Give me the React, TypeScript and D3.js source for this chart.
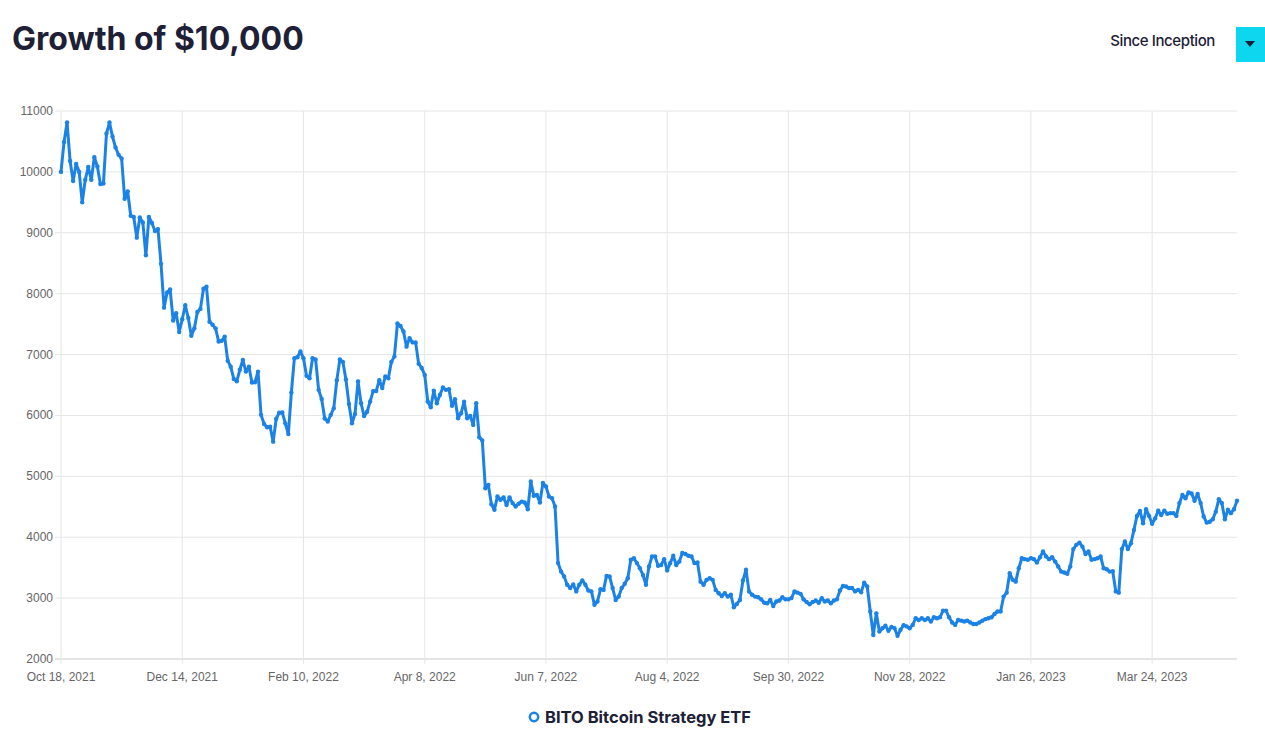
import React from 'react';
import * as d3 from 'd3';

const seriesName = 'BITO Bitcoin Strategy ETF';
const titleText = 'Growth of $10,000';
const periodLabel = 'Since Inception';

const yTicks: number[] = [2000, 3000, 4000, 5000, 6000, 7000, 8000, 9000, 10000, 11000];
const xTickIndex: number[] = [0, 40, 80, 120, 160, 200, 240, 280, 320, 360];
const xTickLabels: string[] = [
  'Oct 18, 2021', 'Dec 14, 2021', 'Feb 10, 2022', 'Apr 8, 2022', 'Jun 7, 2022',
  'Aug 4, 2022', 'Sep 30, 2022', 'Nov 28, 2022', 'Jan 26, 2023', 'Mar 24, 2023',
];

const values2021: number[] = [
  10000, 10490, 10810, 10180, 9850, 10130, 10000, 9500, 9870, 10080,
  9870, 10240, 10090, 9800, 9810, 10630, 10810, 10580, 10400, 10280,
  10220, 9560, 9680, 9280, 9260, 8920, 9250, 9170, 8630, 9260,
  9160, 9030, 9060, 8490, 7770, 8020, 8070, 7560, 7680, 7370,
];
const valuesQ1: number[] = [
  7580, 7810, 7600, 7310, 7430, 7700, 7750, 8080, 8115, 7540,
  7490, 7430, 7215, 7225, 7295, 6900, 6800, 6600, 6560, 6750,
  6910, 6720, 6800, 6540, 6545, 6720, 6010, 5860, 5805, 5815,
  5570, 5945, 6045, 6050, 5870, 5695, 6375, 6940, 6955, 7050,
];
const valuesQ2: number[] = [
  6940, 6650, 6610, 6940, 6920, 6420, 6270, 5950, 5900, 6010,
  6120, 6580, 6920, 6880, 6590, 6190, 5870, 6025, 6560, 6200,
  5990, 6060, 6230, 6400, 6400, 6580, 6450, 6640, 6610, 6880,
  6970, 7510, 7470, 7380, 7130, 7270, 7200, 7200, 6850, 6780,
];
const valuesQ3: number[] = [
  6665, 6230, 6135, 6405, 6200, 6335, 6460, 6420, 6430, 6160,
  6265, 5955, 6035, 6225, 5955, 5990, 5845, 6200, 5640, 5590,
  4805, 4860, 4540, 4450, 4670, 4615, 4655, 4530, 4655, 4560,
  4505, 4550, 4585, 4570, 4460, 4915, 4680, 4695, 4570, 4890,
];
const valuesQ4: number[] = [
  4835, 4670, 4640, 4505, 3575, 3435, 3355, 3220, 3165, 3225,
  3110, 3220, 3290, 3220, 3125, 3110, 2890, 2945, 3145, 3135,
  3365, 3355, 3165, 2970, 3025, 3165, 3235, 3325, 3630, 3655,
  3575, 3490, 3380, 3220, 3520, 3685, 3685, 3530, 3545, 3640,
];
const valuesQ5: number[] = [
  3455, 3575, 3695, 3545, 3600, 3740, 3725, 3695, 3685, 3575,
  3585, 3270, 3220, 3300, 3325, 3300, 3135, 3080, 3035, 3080,
  3025, 3055, 2850, 2905, 2970, 3290, 3465, 3110, 3055, 3025,
  3015, 2980, 2925, 2915, 2970, 2870, 2945, 2960, 3015, 2980,
];
const valuesQ6: number[] = [
  2980, 3000, 3110, 3090, 3070, 2980, 2935, 2900, 2935, 2960,
  2925, 3000, 2945, 2960, 2915, 2960, 2980, 3125, 3200, 3190,
  3165, 3165, 3110, 3135, 3095, 3255, 3190, 2780, 2395, 2750,
  2450, 2505, 2545, 2465, 2525, 2505, 2380, 2480, 2555, 2535,
];
const valuesQ7: number[] = [
  2505, 2560, 2670, 2640, 2670, 2640, 2670, 2615, 2685, 2670,
  2685, 2795, 2795, 2685, 2600, 2560, 2640, 2630, 2615, 2630,
  2600, 2575, 2575, 2600, 2630, 2655, 2670, 2685, 2740, 2780,
  2780, 3025, 3090, 3410, 3300, 3270, 3490, 3655, 3640, 3630,
];
const valuesQ8: number[] = [
  3655, 3640, 3585, 3670, 3765, 3685, 3640, 3670, 3600, 3520,
  3435, 3420, 3400, 3520, 3805, 3875, 3910, 3845, 3725, 3765,
  3630, 3640, 3655, 3685, 3490, 3475, 3435, 3440, 3110, 3090,
  3805, 3930, 3805, 3900, 4120, 4350, 4430, 4230, 4460, 4350,
];
const valuesQ9: number[] = [
  4220, 4310, 4435, 4365, 4435, 4385, 4395, 4395, 4350, 4560,
  4695, 4640, 4735, 4720, 4600, 4710, 4560, 4340, 4240, 4255,
  4295, 4420, 4625, 4560, 4295, 4450, 4395, 4460, 4600,
];

const values: number[] = [
  ...values2021, ...valuesQ1, ...valuesQ2, ...valuesQ3, ...valuesQ4,
  ...valuesQ5, ...valuesQ6, ...valuesQ7, ...valuesQ8, ...valuesQ9,
];

const W = 1265;
const H = 729;
const left = 61;
const right = 1237;
const top = 111;
const bottom = 659;
const lineColor = '#1b82e6';
const navy = '#1d2036';

export default function App() {
  const x = d3.scaleLinear().domain([0, values.length - 1]).range([left, right]);
  const y = d3.scaleLinear().domain([2000, 11000]).range([bottom, top]);
  const line = d3
    .line<number>()
    .x((_, i) => x(i))
    .y((d) => y(d));
  const path = line(values) || '';

  return (
    <svg
      width={W}
      height={H}
      style={{ position: 'absolute', left: 0, top: 0, background: '#fff' }}
      fontFamily="'Liberation Sans', Arial, sans-serif"
    >
      <text x={12} y={50} fontFamily="Inter, 'Noto Sans', sans-serif" fontWeight={700} fontSize={32} fill={navy} letterSpacing={0}>
        {titleText}
      </text>
      <text x={1215} y={46} textAnchor="end" fontFamily="Inter, 'Noto Sans', sans-serif" fontWeight={500} fontSize={15} fill={navy} letterSpacing={-0.4}>
        {periodLabel}
      </text>
      <rect x={1236} y={27} width={29} height={35} fill="#0dd6ee" />
      <path d="M1245,41 L1255,41 L1250,47 Z" fill={navy} />

      {yTicks.map((t) => (
        <g key={'y' + t}>
          <line x1={left - 6} x2={right} y1={y(t)} y2={y(t)} stroke={t === 2000 ? '#c8c8c8' : '#e6e6e6'} strokeWidth={1} />
          <text x={53} y={y(t) + 4} textAnchor="end" fontSize={12} fill="#666">
            {t}
          </text>
        </g>
      ))}
      {xTickIndex.map((idx, i) => (
        <g key={'x' + idx}>
          <line x1={x(idx)} x2={x(idx)} y1={top} y2={bottom + 5} stroke="#e6e6e6" strokeWidth={1} />
          <text x={x(idx)} y={681} textAnchor="middle" fontSize={12} fill="#666">
            {xTickLabels[i]}
          </text>
        </g>
      ))}

      <path d={path} fill="none" stroke={lineColor} strokeWidth={3} strokeLinejoin="round" />
      {values.map((v, i) => (
        <circle key={i} cx={x(i)} cy={y(v)} r={2.2} fill={lineColor} />
      ))}

      <circle cx={534} cy={717} r={4.2} fill="#fff" stroke={lineColor} strokeWidth={2.5} />
      <text x={545} y={723} fontFamily="Inter, 'Noto Sans', sans-serif" fontWeight={700} fontSize={16.5} fill={navy} letterSpacing={0}>
        {seriesName}
      </text>
    </svg>
  );
}
